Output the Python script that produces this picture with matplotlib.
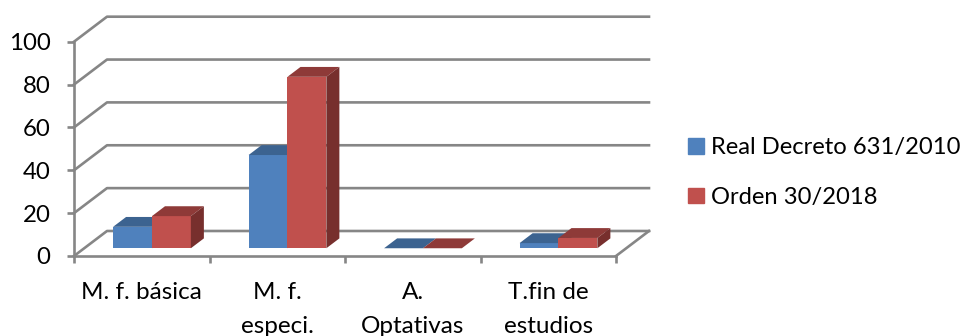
import matplotlib
matplotlib.use("Agg")
import matplotlib.pyplot as plt
from matplotlib.patches import Polygon, Patch

categories = ["M. f. básica", "M. f.\nespeci.", "A.\nOptativas", "T.fin de\nestudios"]
real_decreto = [10, 43.5, 0, 2.4]
orden = [15, 80, 0, 4.8]
yticks = [0, 20, 40, 60, 80, 100]

plt.rcParams["font.family"] = "Lato"
grey = "#868686"
blue = ("#4F81BD", "#3C6390", "#35577F")
red = ("#C0504D", "#8E3A38", "#772F2D")

# chart is in data units, fake 3d depth is just an offset
depth_x = 0.2435
depth_y = 11.67
bar_w = 0.287
bar_shift = 0.31
bar_dx = 0.096
bar_dy = 4.6

fig = plt.figure(figsize=(9.62, 3.36), dpi=100)
ax = fig.add_axes([74 / 962, 80 / 336, 542 / 962, 214.3 / 336])
ax.set_xlim(0, 4)
ax.set_ylim(0, 100)
ax.patch.set_alpha(0)


def draw_bar(x, val, cols, z):
    x0 = x + bar_shift * depth_x
    y0 = bar_shift * depth_y
    top = y0 + val
    ax.bar(x0, val, bar_w, bottom=y0, align="edge", color=cols[0], zorder=z, clip_on=False)
    ax.add_patch(Polygon([(x0, top), (x0 + bar_w, top), (x0 + bar_w + bar_dx, top + bar_dy), (x0 + bar_dx, top + bar_dy)],
                         closed=True, color=cols[1], lw=0, zorder=z, clip_on=False))
    if val > 0:
        ax.add_patch(Polygon([(x0 + bar_w, y0), (x0 + bar_w + bar_dx, y0 + bar_dy), (x0 + bar_w + bar_dx, top + bar_dy), (x0 + bar_w, top)],
                             closed=True, color=cols[2], lw=0, zorder=z, clip_on=False))


# walls and floor
for t in yticks:
    ax.plot([0, depth_x, 4 + depth_x], [t, t + depth_y, t + depth_y], color=grey, lw=1.9, zorder=1, clip_on=False)
ax.plot([4, 4 + depth_x], [0, depth_y], color=grey, lw=1.9, zorder=1, clip_on=False)

for i in range(len(categories)):
    center = i + 0.5
    draw_bar(center - bar_w, real_decreto[i], blue, 3 + i)
    draw_bar(center, orden[i], red, 3.5 + i)

for s in ["top", "right"]:
    ax.spines[s].set_visible(False)
for s in ["left", "bottom"]:
    ax.spines[s].set_color(grey)
    ax.spines[s].set_linewidth(1.9)

ax.set_yticks(yticks)
ax.set_yticklabels([str(t) for t in yticks], fontsize=17.3, color="black")
ax.tick_params(axis="y", length=5, width=1.9, color=grey, pad=12)
ax.set_xticks([0, 1, 2, 3, 4])
ax.set_xticklabels([])
ax.tick_params(axis="x", which="major", length=5, width=1.9, color=grey)
ax.set_xticks([0.5, 1.5, 2.5, 3.5], minor=True)
ax.set_xticklabels(categories, minor=True, fontsize=17.5, linespacing=1.75)
ax.tick_params(axis="x", which="minor", length=0, pad=19)

handles = [Patch(color=blue[0], label="Real Decreto 631/2010"), Patch(color=red[0], label="Orden 30/2018")]
fig.legend(handles=handles, loc="upper left", bbox_to_anchor=(686 / 962, 1 - 135 / 336), frameon=False,
           fontsize=17.1, handlelength=0.65, handleheight=0.65, handletextpad=0.3, labelspacing=1.2,
           borderpad=0.1, borderaxespad=0)

fig.savefig("out.png", dpi=100)
